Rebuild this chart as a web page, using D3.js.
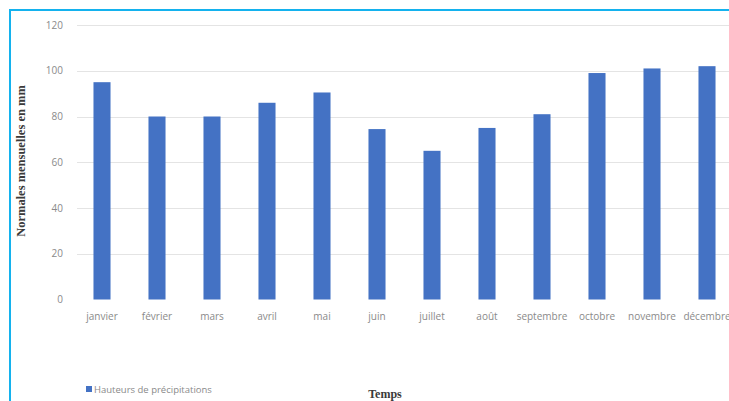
<!DOCTYPE html>
<html lang="fr">
<head>
<meta charset="utf-8">
<script src="https://cdn.jsdelivr.net/npm/d3@7"></script>
<style>
  html, body { margin: 0; padding: 0; background: #ffffff; }
  svg { display: block; }
</style>
</head>
<body>
<svg id="chart" width="729" height="401"></svg>
<script>
// Normales mensuelles des hauteurs de précipitations (mm)
const months = ["janvier", "février", "mars", "avril", "mai", "juin",
                "juillet", "août", "septembre", "octobre", "novembre", "décembre"];
const precipitation = [95, 80, 80, 86, 90.5, 74.5, 65, 75, 81, 99, 101, 102];
const yTicks = [0, 20, 40, 60, 80, 100, 120];
const seriesName = "Hauteurs de précipitations";
const xTitle = "Temps";
const yTitle = "Normales mensuelles en mm";

const svg = d3.select("#chart");
const W = 729, H = 401;
const barColor = "#4472c4";
const sans = "'Open Sans', 'Liberation Sans', sans-serif";
const serif = "'Liberation Serif', 'DejaVu Serif', serif";

// Frame
svg.append("line").attr("x1", 9).attr("x2", W).attr("y1", 10).attr("y2", 10)
  .attr("stroke", "#14b2ee").attr("stroke-width", 2);
svg.append("line").attr("x1", 10).attr("x2", 10).attr("y1", 9).attr("y2", H)
  .attr("stroke", "#14b2ee").attr("stroke-width", 2);

const x = d3.scaleBand()
  .domain(months)
  .range([74.5, 734.5])
  .paddingInner(0.69)
  .paddingOuter(0.345);

const y = d3.scaleLinear().domain([0, 120]).range([299.5, 25]);

// Horizontal gridlines
svg.append("g")
  .selectAll("line")
  .data(yTicks.filter(t => t > 0))
  .join("line")
  .attr("x1", 77).attr("x2", W)
  .attr("y1", d => Math.round(y(d)) + 0.5)
  .attr("y2", d => Math.round(y(d)) + 0.5)
  .attr("stroke", "#e4e4e4").attr("stroke-width", 1);

// Y axis tick labels
const yAxis = d3.axisLeft(y).tickValues(yTicks).tickSize(0).tickPadding(0);
svg.append("g")
  .attr("transform", "translate(63,0)")
  .call(yAxis)
  .call(g => g.select(".domain").remove())
  .call(g => g.selectAll("text")
    .attr("fill", "#8a8a8a")
    .attr("font-family", sans)
    .attr("font-size", 10));

// Bars
svg.append("g")
  .selectAll("rect")
  .data(months.map((m, i) => ({ m, v: precipitation[i] })))
  .join("rect")
  .attr("x", d => x(d.m))
  .attr("width", x.bandwidth())
  .attr("y", d => y(d.v))
  .attr("height", d => y(0) - y(d.v))
  .attr("fill", barColor);

// X axis category labels
const xAxis = d3.axisBottom(x).tickSize(0).tickPadding(0);
svg.append("g")
  .attr("transform", "translate(0,313)")
  .call(xAxis)
  .call(g => g.select(".domain").remove())
  .call(g => g.selectAll("text")
    .attr("fill", "#8a8a8a")
    .attr("font-family", sans)
    .attr("font-size", 10));

// Axis titles
svg.append("text")
  .attr("transform", "translate(25,161) rotate(-90)")
  .attr("text-anchor", "middle")
  .attr("font-family", serif)
  .attr("font-weight", "bold")
  .attr("font-size", 12.5)
  .attr("fill", "#3a3a3a")
  .text(yTitle);

svg.append("text")
  .attr("x", 385).attr("y", 398)
  .attr("text-anchor", "middle")
  .attr("font-family", serif)
  .attr("font-weight", "bold")
  .attr("font-size", 12)
  .attr("fill", "#3a3a3a")
  .text(xTitle);

// Legend
const legend = svg.append("g").attr("transform", "translate(86,386)");
legend.append("rect").attr("x", 0).attr("y", 0).attr("width", 6).attr("height", 6)
  .attr("fill", barColor);
legend.append("text").attr("x", 8).attr("y", 7)
  .attr("font-family", sans).attr("font-size", 9.5)
  .attr("fill", "#8a8a8a")
  .text(seriesName);
</script>
</body>
</html>
